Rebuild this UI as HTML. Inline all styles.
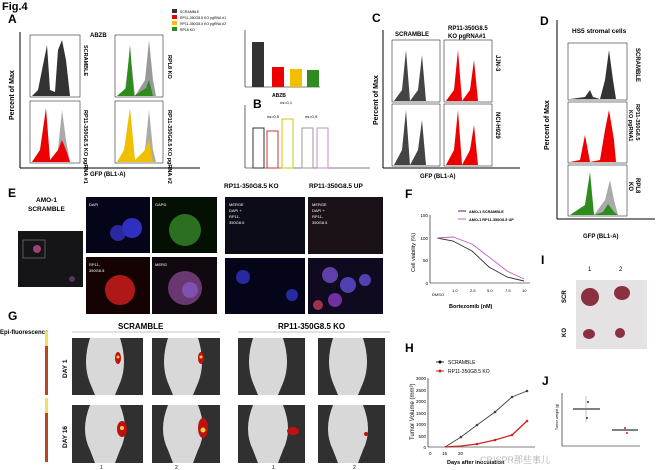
<!DOCTYPE html><html><head><style>body{margin:0;background:#fff}svg{display:block;font-family:"Liberation Sans",sans-serif}</style></head><body>
<svg width="660" height="470" viewBox="0 0 660 470" xmlns="http://www.w3.org/2000/svg">
<rect width="660" height="470" fill="#fff"/>
<text x="2" y="10" font-size="11" font-weight="bold">Fig.4</text>
<text x="8" y="23" font-size="12" font-weight="bold">A</text>
<text x="90" y="37" font-size="6" font-weight="bold">ABZB</text>
<line x1="20" y1="32" x2="20" y2="168" stroke="#000"/><line x1="20" y1="168" x2="200" y2="168" stroke="#000"/>
<text x="14" y="120" font-size="7" font-weight="bold" transform="rotate(-90 14 120)">Percent of Max</text>
<text x="90" y="176" font-size="6" font-weight="bold">GFP (BL1-A)</text>
<g stroke="#000" stroke-width="0.5" fill="none"><rect x="30" y="35" width="50" height="62"/><rect x="115" y="35" width="48" height="62"/><rect x="30" y="101" width="50" height="62"/><rect x="115" y="101" width="48" height="62"/></g>
<path d="M32 96 L38 90 L44 60 L47 45 L50 90 L55 92 L58 50 L62 40 L66 60 L70 96Z" fill="#333"/>
<path d="M117 96 L125 90 L130 50 L135 96 L145 80 L149 40 L153 80 L156 96Z" fill="#999"/><path d="M117 96 L126 88 L130 45 L134 96 L146 88 L149 80 L153 96Z" fill="#2e8b1e"/>
<path d="M32 162 L40 150 L46 110 L50 162 L58 150 L62 110 L66 140 L70 162Z" fill="#aaa"/><path d="M32 162 L40 150 L46 108 L50 160 L58 150 L62 140 L66 150 L70 162Z" fill="#e00"/>
<path d="M117 162 L125 150 L130 110 L135 162 L145 150 L149 110 L153 150 L156 162Z" fill="#aaa"/><path d="M117 162 L124 150 L130 108 L135 160 L145 150 L149 140 L153 162Z" fill="#f0c000"/>
<g font-size="5.5" font-weight="bold"><text transform="translate(84 45) rotate(90)">SCRAMBLE</text><text transform="translate(168 55) rotate(90)">RPL8 KO</text><text transform="translate(84 110) rotate(90)">RP11-350G8.5 KO pgRNA #1</text><text transform="translate(168 110) rotate(90)">RP11-350G8.5 KO pgRNA #2</text></g>
<g font-size="3.5"><rect x="172" y="9" width="5" height="4" fill="#333"/><text x="180" y="13">SCRAMBLE</text><rect x="172" y="15" width="5" height="4" fill="#e00"/><text x="180" y="19">RP11-350G8.5 KO pgRNA #1</text><rect x="172" y="21" width="5" height="4" fill="#f0c000"/><text x="180" y="25">RP11-350G8.5 KO pgRNA #2</text><rect x="172" y="27" width="5" height="4" fill="#2e8b1e"/><text x="180" y="31">RPL8 KO</text></g>
<line x1="245" y1="30" x2="245" y2="87" stroke="#000" stroke-width="0.6"/><line x1="245" y1="87" x2="320" y2="87" stroke="#000" stroke-width="0.6"/>
<rect x="252" y="42" width="12" height="45" fill="#333"/><rect x="272" y="67" width="12" height="20" fill="#e00"/><rect x="290" y="69" width="12" height="18" fill="#f0c000"/><rect x="307" y="70" width="12" height="17" fill="#2e8b1e"/>
<text x="272" y="97" font-size="5" font-weight="bold">ABZB</text>
<text x="253" y="108" font-size="12" font-weight="bold">B</text>
<line x1="245" y1="105" x2="245" y2="168" stroke="#000" stroke-width="0.6"/><line x1="245" y1="168" x2="370" y2="168" stroke="#000" stroke-width="0.6"/>
<g fill="none" stroke-width="1"><rect x="253" y="128" width="11" height="40" stroke="#333"/><rect x="267" y="131" width="11" height="37" stroke="#c33"/><rect x="282" y="119" width="11" height="49" stroke="#cc0"/><rect x="302" y="128" width="11" height="40" stroke="#999"/><rect x="317" y="128" width="11" height="40" stroke="#c8c"/></g>
<g font-size="4"><text x="267" y="118">ns=0,5</text><text x="280" y="104">ns=0,1</text><text x="305" y="118">ns=0,9</text></g>
<text x="372" y="22" font-size="12" font-weight="bold">C</text>
<line x1="383" y1="30" x2="383" y2="168" stroke="#000"/><line x1="383" y1="168" x2="520" y2="168" stroke="#000"/>
<text x="378" y="125" font-size="7" font-weight="bold" transform="rotate(-90 378 125)">Percent of Max</text>
<text x="420" y="178" font-size="6" font-weight="bold">GFP (BL1-A)</text>
<text x="395" y="36" font-size="6" font-weight="bold">SCRAMBLE</text><text x="448" y="30" font-size="6" font-weight="bold">RP11-350G8.5</text><text x="448" y="38" font-size="6" font-weight="bold">KO pgRNA#1</text>
<g stroke="#000" stroke-width="0.5" fill="none"><rect x="392" y="40" width="48" height="62"/><rect x="444" y="40" width="48" height="62"/><rect x="392" y="104" width="48" height="62"/><rect x="444" y="104" width="48" height="62"/></g>
<path d="M394 101 L402 90 L406 50 L410 101 L418 90 L422 55 L426 101Z" fill="#444"/><path d="M446 101 L454 90 L458 50 L462 101 L470 90 L474 60 L478 101Z" fill="#e00"/>
<path d="M394 165 L402 150 L406 110 L410 165 L418 150 L422 120 L426 165Z" fill="#444"/><path d="M446 165 L454 150 L458 110 L462 165 L470 150 L474 125 L478 165Z" fill="#e00"/>
<g font-size="6" font-weight="bold"><text transform="translate(496 55) rotate(90)">JJN-3</text><text transform="translate(496 112) rotate(90)">NCI-H929</text></g>
<text x="540" y="25" font-size="12" font-weight="bold">D</text>
<text x="572" y="33" font-size="6.5" font-weight="bold">HS5 stromal cells</text>
<line x1="557" y1="20" x2="557" y2="219" stroke="#000"/><line x1="557" y1="219" x2="655" y2="219" stroke="#000"/>
<text x="549" y="150" font-size="7" font-weight="bold" transform="rotate(-90 549 150)">Percent of Max</text>
<text x="583" y="238" font-size="6" font-weight="bold">GFP (BL1-A)</text>
<g stroke="#000" stroke-width="0.5" fill="none"><rect x="568" y="43" width="59" height="57"/><rect x="568" y="102" width="59" height="61"/><rect x="568" y="165" width="59" height="51"/></g>
<path d="M570 99 L585 97 L590 90 L593 97 L600 99 L605 80 L609 50 L613 80 L616 99Z" fill="#333"/>
<path d="M570 162 L580 160 L585 135 L590 162 L600 160 L605 130 L609 110 L614 140 L616 162Z" fill="#e00"/>
<path d="M570 215 L585 205 L590 175 L594 215 L605 200 L610 180 L614 200 L618 215Z" fill="#aaa"/><path d="M570 215 L585 205 L590 172 L594 215 L603 212 L608 204 L614 212 L618 215Z" fill="#2e8b1e"/>
<g font-size="6" font-weight="bold"><text transform="translate(636 48) rotate(90)">SCRAMBLE</text><text font-size="5.5" transform="translate(636 104) rotate(90)">RP11-350G8.5</text><text font-size="5.5" transform="translate(629 110) rotate(90)">KO pgRNA1</text><text transform="translate(636 178) rotate(90)">RPL8</text><text transform="translate(629 182) rotate(90)">KO</text></g>
<text x="8" y="197" font-size="12" font-weight="bold">E</text>
<text x="36" y="202" font-size="6.5" font-weight="bold">AMO-1</text><text x="28" y="211" font-size="6.5" font-weight="bold">SCRAMBLE</text>
<rect x="18" y="231" width="65" height="56" fill="#151518"/><rect x="23" y="240" width="22" height="18" fill="none" stroke="#888" stroke-width="0.6"/><circle cx="37" cy="249" r="4" fill="#a04070"/><circle cx="72" cy="279" r="3" fill="#603060"/>
<rect x="86" y="197" width="64" height="56" fill="#05051a"/><rect x="152" y="197" width="65" height="56" fill="#051005"/><rect x="86" y="257" width="64" height="57" fill="#150303"/><rect x="152" y="257" width="65" height="57" fill="#100a10"/>
<circle cx="118" cy="233" r="8" fill="#2828a0"/><circle cx="132" cy="228" r="10" fill="#3030c0"/><circle cx="185" cy="230" r="16" fill="#2a7020"/><circle cx="120" cy="290" r="15" fill="#b01818"/><circle cx="185" cy="288" r="17" fill="#6a3870"/><circle cx="190" cy="290" r="8" fill="#8050b0"/>
<g font-size="4" fill="#fff"><text x="89" y="206">DAPI</text><text x="155" y="206">GAPD</text><text x="89" y="266">RP11-</text><text x="89" y="272">350G8.5</text><text x="155" y="266">MERG</text></g>
<text x="224" y="188" font-size="6.5" font-weight="bold">RP11-350G8.5 KO</text><text x="309" y="188" font-size="6.5" font-weight="bold">RP11-350G8.5 UP</text>
<rect x="225" y="197" width="80" height="57" fill="#0c0c18"/><rect x="308" y="197" width="75" height="57" fill="#1a1018"/><rect x="225" y="258" width="80" height="56" fill="#05051a"/><rect x="308" y="258" width="75" height="56" fill="#100a20"/>
<g font-size="4" fill="#fff"><text x="229" y="206">MERGE</text><text x="229" y="212">DAPI +</text><text x="229" y="218">RP11-</text><text x="229" y="224">350G8.5</text><text x="312" y="206">MERGE</text><text x="312" y="212">DAPI +</text><text x="312" y="218">RP11-</text><text x="312" y="224">350G8.5</text></g>
<circle cx="243" cy="277" r="7" fill="#2828a0"/><circle cx="292" cy="295" r="6" fill="#2828a0"/><circle cx="330" cy="275" r="8" fill="#6040a8"/><circle cx="348" cy="285" r="8" fill="#5040b0"/><circle cx="335" cy="300" r="7" fill="#7030a0"/><circle cx="365" cy="280" r="6" fill="#5040b0"/><circle cx="318" cy="305" r="5" fill="#a03050"/>
<text x="405" y="198" font-size="12" font-weight="bold">F</text>
<line x1="430" y1="215" x2="430" y2="283" stroke="#000" stroke-width="0.6"/><line x1="430" y1="283" x2="530" y2="283" stroke="#000" stroke-width="0.6"/>
<g font-size="4.5" text-anchor="end"><text x="428" y="217">150</text><text x="428" y="240">100</text><text x="428" y="262">50</text><text x="428" y="285">0</text></g>
<text x="415" y="272" font-size="5.5" transform="rotate(-90 415 272)">Cell viability (%)</text>
<polyline points="437,238 453,241 472,251 489,267 507,277 524,281" fill="none" stroke="#333" stroke-width="0.9"/>
<polyline points="437,238 453,237 472,244 489,257 507,271 524,279" fill="none" stroke="#c060c0" stroke-width="0.9"/>
<g font-size="3.8" font-weight="bold"><line x1="458" y1="211" x2="466" y2="211" stroke="#333"/><text x="469" y="213">AMO-1 SCRAMBLE</text><line x1="458" y1="219" x2="466" y2="219" stroke="#c060c0"/><text x="469" y="221">AMO-1 RP11-350G8.5 UP</text></g>
<g font-size="4"><text x="432" y="296">DMSO</text><text x="452" y="292">1.0</text><text x="470" y="292">2.5</text><text x="487" y="292">5.0</text><text x="505" y="292">7.5</text><text x="522" y="292">10</text></g>
<text x="449" y="308" font-size="5.5" font-weight="bold">Bortezomib (nM)</text>
<text x="541" y="264" font-size="12" font-weight="bold">I</text>
<text x="588" y="271" font-size="6">1</text><text x="619" y="271" font-size="6">2</text>
<rect x="576" y="280" width="71" height="69" fill="#e4e2e2"/>
<text x="566" y="303" font-size="6" font-weight="bold" transform="rotate(-90 566 303)">SCR</text><text x="566" y="337" font-size="6" font-weight="bold" transform="rotate(-90 566 337)">KO</text>
<g fill="#8a3040"><ellipse cx="590" cy="297" rx="9" ry="9"/><ellipse cx="622" cy="293" rx="8" ry="7"/><ellipse cx="589" cy="334" rx="6" ry="5"/><ellipse cx="620" cy="333" rx="5" ry="5"/></g>
<text x="8" y="320" font-size="12" font-weight="bold">G</text>
<text x="0" y="334" font-size="6" font-weight="bold">Epi-fluorescence</text>
<text x="118" y="329" font-size="8" font-weight="bold">SCRAMBLE</text><text x="278" y="329" font-size="8" font-weight="bold">RP11-350G8.5 KO</text>
<line x1="72" y1="332" x2="220" y2="332" stroke="#888" stroke-width="0.6"/><line x1="238" y1="332" x2="390" y2="332" stroke="#888" stroke-width="0.6"/>
<rect x="45" y="331" width="3" height="64" fill="#c04020"/><rect x="45" y="398" width="3" height="64" fill="#c04020"/><rect x="45" y="331" width="3" height="15" fill="#f0e060"/><rect x="45" y="398" width="3" height="15" fill="#f0e060"/>
<text x="67" y="378" font-size="6.5" font-weight="bold" transform="rotate(-90 67 378)">DAY 1</text><text x="67" y="448" font-size="6.5" font-weight="bold" transform="rotate(-90 67 448)">DAY 16</text>
<g fill="#303030"><rect x="72" y="338" width="71" height="57"/><rect x="152" y="338" width="68" height="57"/><rect x="238" y="338" width="67" height="57"/><rect x="318" y="338" width="67" height="57"/><rect x="72" y="405" width="71" height="58"/><rect x="152" y="405" width="68" height="58"/><rect x="238" y="405" width="67" height="58"/><rect x="318" y="405" width="67" height="58"/></g>
<g fill="#d8d8d8"><path d="M90 338 h30 q8 25 0 45 l-5 12 h-20 l-5 -12 q-8 -20 0 -45z"/><path d="M168 338 h30 q8 25 0 45 l-5 12 h-20 l-5 -12 q-8 -20 0 -45z"/><path d="M253 338 h30 q8 25 0 45 l-5 12 h-20 l-5 -12 q-8 -20 0 -45z"/><path d="M333 338 h30 q8 25 0 45 l-5 12 h-20 l-5 -12 q-8 -20 0 -45z"/><path d="M90 405 h30 q10 25 0 45 l-5 13 h-20 l-5 -13 q-10 -20 0 -45z"/><path d="M168 405 h30 q10 25 0 45 l-5 13 h-20 l-5 -13 q-10 -20 0 -45z"/><path d="M253 405 h30 q10 25 0 45 l-5 13 h-20 l-5 -13 q-10 -20 0 -45z"/><path d="M333 405 h30 q10 25 0 45 l-5 13 h-20 l-5 -13 q-10 -20 0 -45z"/></g>
<g fill="#c01010"><ellipse cx="118" cy="358" rx="3" ry="6"/><ellipse cx="201" cy="358" rx="3" ry="6"/><ellipse cx="122" cy="429" rx="5" ry="8"/><ellipse cx="203" cy="428" rx="5" ry="10"/><ellipse cx="293" cy="431" rx="6" ry="4"/><circle cx="366" cy="434" r="2"/></g>
<g fill="#f0d040"><circle cx="118" cy="357" r="1.5"/><circle cx="201" cy="357" r="1.5"/><circle cx="122" cy="428" r="2"/><circle cx="203" cy="430" r="2.5"/></g>
<text x="100" y="469" font-size="5">1</text><text x="175" y="469" font-size="5">2</text><text x="272" y="469" font-size="5">1</text><text x="353" y="469" font-size="5">2</text>
<text x="405" y="352" font-size="12" font-weight="bold">H</text>
<line x1="428" y1="378" x2="428" y2="447" stroke="#000" stroke-width="0.6"/><line x1="428" y1="447" x2="535" y2="447" stroke="#000" stroke-width="0.6"/>
<g font-size="4.5" text-anchor="end"><text x="426" y="380">3000</text><text x="426" y="392">2500</text><text x="426" y="403">2000</text><text x="426" y="415">1500</text><text x="426" y="426">1000</text><text x="426" y="438">500</text><text x="426" y="449">0</text></g>
<text x="414" y="440" font-size="6" transform="rotate(-90 414 440)">Tumor Volume (mm³)</text>
<polyline points="445,447 461,437 477,425 495,412 512,397 527,391" fill="none" stroke="#444" stroke-width="0.9"/>
<polyline points="445,447 461,446 477,444 495,440 512,435 527,421" fill="none" stroke="#d02020" stroke-width="1.3"/>
<g fill="#444"><circle cx="461" cy="437" r="1.3"/><circle cx="477" cy="425" r="1.3"/><circle cx="495" cy="412" r="1.3"/><circle cx="512" cy="397" r="1.3"/><circle cx="527" cy="391" r="1.3"/></g>
<g fill="#d02020"><circle cx="477" cy="444" r="1.3"/><circle cx="495" cy="440" r="1.3"/><circle cx="512" cy="435" r="1.3"/><circle cx="527" cy="421" r="1.3"/></g>
<g font-size="5"><line x1="436" y1="362" x2="444" y2="362" stroke="#333"/><circle cx="440" cy="362" r="1.5"/><text x="448" y="364">SCRAMBLE</text><line x1="436" y1="371" x2="444" y2="371" stroke="#d02020"/><circle cx="440" cy="371" r="1.5" fill="#d02020"/><text x="448" y="373">RP11-350G8.5 KO</text></g>
<g font-size="4.5"><text x="429" y="455">0</text><text x="442" y="455">16</text><text x="458" y="455">20</text></g>
<text x="447" y="464" font-size="5.5" font-weight="bold">Days after inoculation</text>
<text x="542" y="385" font-size="12" font-weight="bold">J</text>
<line x1="562" y1="393" x2="562" y2="446" stroke="#000" stroke-width="0.6"/><line x1="562" y1="446" x2="640" y2="446" stroke="#000" stroke-width="0.6"/>
<text x="558" y="430" font-size="3.5" transform="rotate(-90 558 430)">Tumor weight (g)</text>
<line x1="573" y1="409" x2="600" y2="409" stroke="#000"/><line x1="586" y1="396" x2="586" y2="422" stroke="#888" stroke-width="0.5"/>
<line x1="612" y1="430" x2="638" y2="430" stroke="#000"/><circle cx="588" cy="402" r="1" fill="#333"/><circle cx="587" cy="418" r="1" fill="#333"/><circle cx="625" cy="428" r="1" fill="#c02020"/><circle cx="627" cy="433" r="1" fill="#c02020"/>
<text x="480" y="463" font-size="9" fill="#bbb">CRISPR那些事儿</text>
</svg></body></html>
